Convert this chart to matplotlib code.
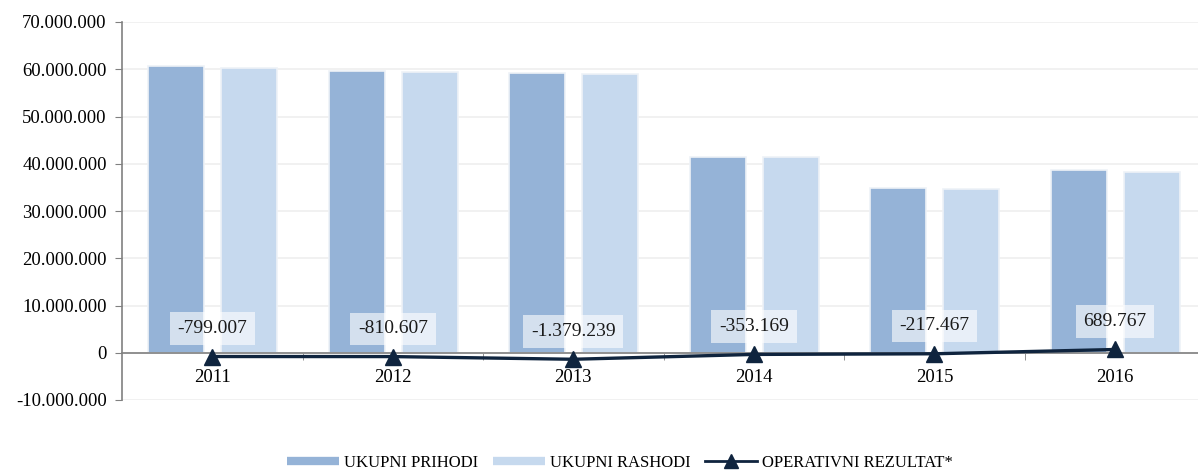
import matplotlib
matplotlib.use("Agg")
from matplotlib import pyplot as plt
from matplotlib.lines import Line2D
import numpy as np

plt.rcParams['font.family'] = ['Liberation Serif', 'DejaVu Serif']

# podaci
godine = ["2011", "2012", "2013", "2014", "2015", "2016"]
prihodi = [60700000, 59600000, 59200000, 41400000, 34800000, 38600000]
rashodi = [60300000, 59400000, 59000000, 41400000, 34700000, 38200000]
rezultat = [-799007, -810607, -1379239, -353169, -217467, 689767]


def fmt(v):
    return "{:,}".format(v).replace(",", ".")


fig = plt.figure(figsize=(11.98, 4.72), dpi=100)
ax = fig.add_axes([122 / 1198, 72 / 472, 1 - 122 / 1198, 378 / 472])

x = np.arange(len(godine))
w = 0.31
ax.bar(x - 0.2, prihodi, w, color="#95B3D7", edgecolor="#EEF2F7", linewidth=1.2, zorder=2)
ax.bar(x + 0.205, rashodi, w, color="#C6D9EE", edgecolor="#EEF2F7", linewidth=1.2, zorder=2)
ax.plot(x, rezultat, color="#0F243E", linewidth=2.4, marker="^", markersize=12, zorder=4)

for xi, v in zip(x, rezultat):
    ax.annotate(fmt(v), (xi, v), xytext=(0, 20), textcoords="offset points",
                ha="center", va="center", fontsize=14, color="#1a1a1a", zorder=5,
                bbox=dict(boxstyle="square,pad=0.4", fc="white", ec="none", alpha=0.6))

ax.set_ylim(-10000000, 70000000)
ax.set_xlim(-0.5, 5.46)
ax.set_yticks(range(-10000000, 70000001, 10000000))
ax.set_yticklabels([fmt(v) for v in range(-10000000, 70000001, 10000000)])
ax.set_xticks(x)
ax.set_xticklabels(godine)
ax.set_xticks(np.arange(0.5, 5.5, 1), minor=True)
ax.tick_params(axis="x", which="major", length=0, pad=12, labelsize=13.5)
ax.tick_params(axis="x", which="minor", length=5, color="#808080")
ax.tick_params(axis="y", length=5, color="#808080", pad=6, labelsize=13.5)

ax.grid(axis="y", color="#EFEFEF", linewidth=1.2, zorder=0)
ax.set_axisbelow(True)
for s in ["top", "right"]:
    ax.spines[s].set_visible(False)
ax.spines["bottom"].set_position(("data", 0))
ax.spines["bottom"].set_color("#808080")
ax.spines["left"].set_color("#808080")
ax.spines["bottom"].set_linewidth(1.2)
ax.spines["left"].set_linewidth(1.2)

handles = [
    Line2D([], [], color="#95B3D7", linewidth=6, solid_capstyle="butt"),
    Line2D([], [], color="#C6D9EE", linewidth=6, solid_capstyle="butt"),
    Line2D([], [], color="#0F243E", linewidth=2, marker="^", markersize=10),
]
labels = ["UKUPNI PRIHODI", "UKUPNI RASHODI", "OPERATIVNI REZULTAT*"]
fig.legend(handles, labels, loc="center", bbox_to_anchor=(620 / 1198, 1 - 463 / 472), ncol=3,
           frameon=False, fontsize=12, handlelength=3.1, columnspacing=0.9,
           handletextpad=0.3, borderaxespad=0)

plt.savefig("out.png", dpi=100)
